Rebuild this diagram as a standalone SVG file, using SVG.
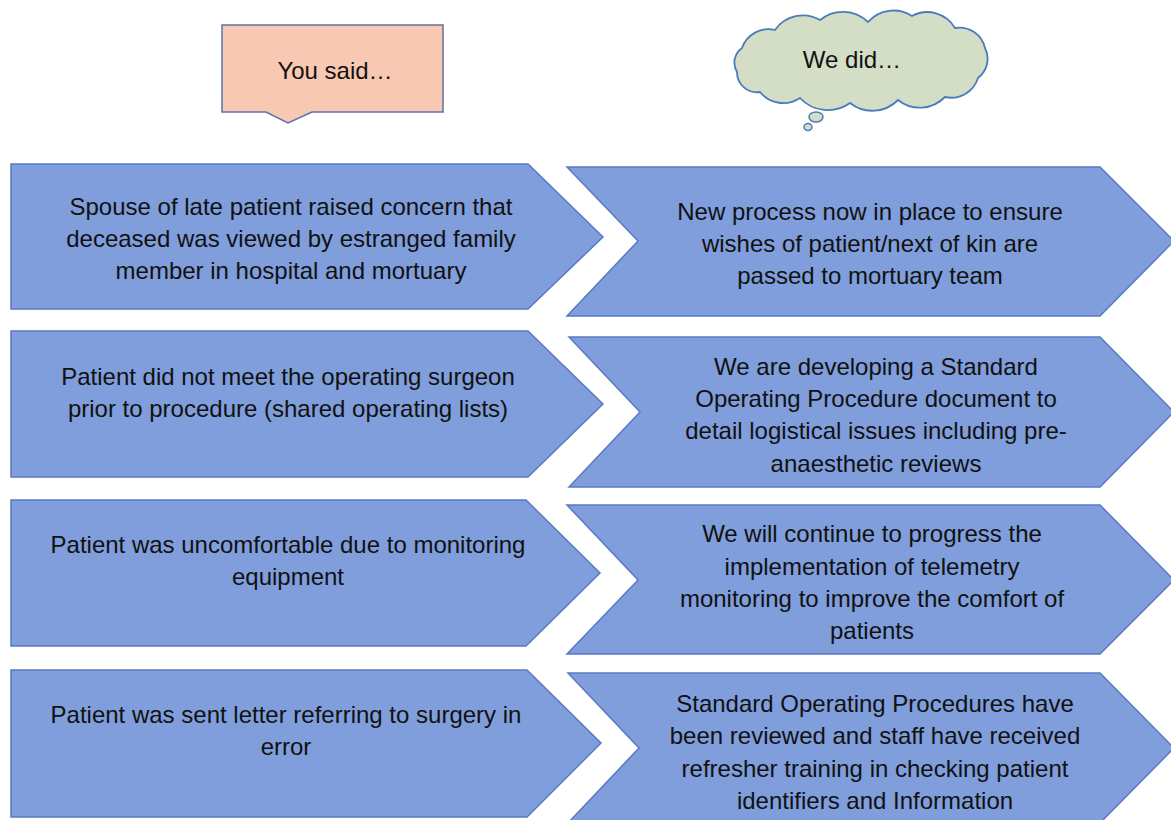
<svg xmlns="http://www.w3.org/2000/svg" width="1171" height="820" viewBox="0 0 1171 820">
  <style>
    .chev { fill: #7f9edb; stroke: #5a79c2; stroke-width: 1.5; }
    .t { font-family: "Liberation Sans", Arial, sans-serif; font-size: 24px; fill: #111; text-anchor: middle; }
    .hdr { font-family: "Liberation Sans", Arial, sans-serif; font-size: 24px; fill: #111; text-anchor: middle; }
  </style>
  <rect width="1171" height="820" fill="#ffffff"/>

  <!-- header: callout box -->
  <g id="you-said">
    <path d="M222,25 H443 V112 H312 L288,123 L266,112 H222 Z" fill="#f9c8b2" stroke="#5d72a8" stroke-width="1.5"/>
    <text class="hdr" x="335" y="79">You said…</text>
  </g>

  <!-- header: thought cloud -->
  <g id="we-did">
    <path d="M737,72 A18,18 0 0 1 742,48 A28,28 0 0 1 775,30 A34,34 0 0 1 820,20 A36,36 0 0 1 868,22 A34,34 0 0 1 912,16 A32,32 0 0 1 955,28 A26,26 0 0 1 985,48 A24,24 0 0 1 978,78 A28,28 0 0 1 945,97 A35,35 0 0 1 898,100 A36,36 0 0 1 850,103 A38,38 0 0 1 800,98 A30,30 0 0 1 760,92 A20,20 0 0 1 737,72 Z" fill="#d4dec6" stroke="#4b7bbd" stroke-width="1.8"/>
    <ellipse cx="816" cy="117" rx="7" ry="5" fill="#d4dec6" stroke="#4b7bbd" stroke-width="1.5"/>
    <ellipse cx="808" cy="127" rx="4" ry="3.5" fill="#d4dec6" stroke="#4b7bbd" stroke-width="1.5"/>
    <text class="hdr" x="852" y="68" font-size="22">We did…</text>
  </g>

  <!-- row 1 -->
  <g id="said-1">
    <path class="chev" d="M11,164 H528 L603,237 L528,309 H11 Z"/>
    <text class="t" x="291" y="215">Spouse of late patient raised concern that</text>
    <text class="t" x="291" y="247">deceased was viewed by estranged family</text>
    <text class="t" x="291" y="279">member in hospital and mortuary</text>
  </g>
  <g id="did-1">
    <path class="chev" d="M567,167 H1100 L1174,241 L1100,316 H567 L638,241 Z"/>
    <text class="t" x="870" y="220">New process now in place to ensure</text>
    <text class="t" x="870" y="252">wishes of patient/next of kin are</text>
    <text class="t" x="870" y="284">passed to mortuary team</text>
  </g>

  <!-- row 2 -->
  <g id="said-2">
    <path class="chev" d="M11,331 H528 L603,404 L528,477 H11 Z"/>
    <text class="t" x="288" y="385">Patient did not meet the operating surgeon</text>
    <text class="t" x="288" y="417">prior to procedure (shared operating lists)</text>
  </g>
  <g id="did-2">
    <path class="chev" d="M569,337 H1100 L1174,412 L1100,487 H569 L640,412 Z"/>
    <text class="t" x="876" y="375">We are developing a Standard</text>
    <text class="t" x="876" y="407">Operating Procedure document to</text>
    <text class="t" x="876" y="439">detail logistical issues including pre-</text>
    <text class="t" x="876" y="472">anaesthetic reviews</text>
  </g>

  <!-- row 3 -->
  <g id="said-3">
    <path class="chev" d="M11,500 H526 L600,573 L526,646 H11 Z"/>
    <text class="t" x="288" y="553">Patient was uncomfortable due to monitoring</text>
    <text class="t" x="288" y="585">equipment</text>
  </g>
  <g id="did-3">
    <path class="chev" d="M567,505 H1100 L1174,580 L1100,654 H567 L638,580 Z"/>
    <text class="t" x="872" y="542">We will continue to progress the</text>
    <text class="t" x="872" y="575">implementation of telemetry</text>
    <text class="t" x="872" y="607">monitoring to improve the comfort of</text>
    <text class="t" x="872" y="639">patients</text>
  </g>

  <!-- row 4 -->
  <g id="said-4">
    <path class="chev" d="M11,670 H527 L601,743 L527,817 H11 Z"/>
    <text class="t" x="286" y="723">Patient was sent letter referring to surgery in</text>
    <text class="t" x="286" y="755">error</text>
  </g>
  <g id="did-4">
    <path class="chev" d="M568,673 H1100 L1174,748 L1100,823 H568 L639,748 Z"/>
    <text class="t" x="875" y="712">Standard Operating Procedures have</text>
    <text class="t" x="875" y="744">been reviewed and staff have received</text>
    <text class="t" x="875" y="777">refresher training in checking patient</text>
    <text class="t" x="875" y="809">identifiers and Information</text>
  </g>

  <!-- no connectors: the chevrons themselves carry the flow -->
  <g id="connectors"/>
</svg>
